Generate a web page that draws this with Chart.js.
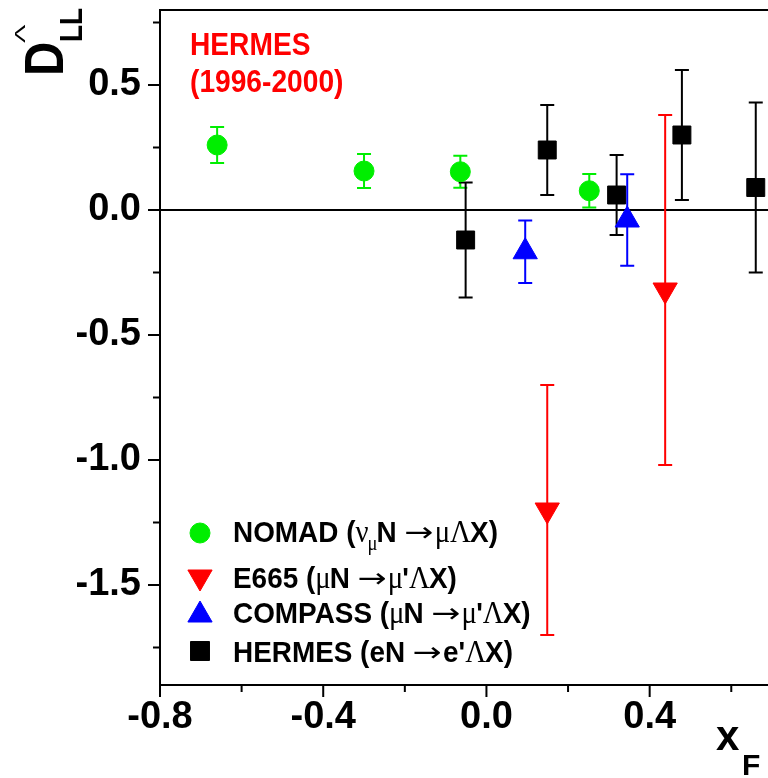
<!DOCTYPE html>
<html>
<head>
<meta charset="utf-8">
<script src="https://cdn.jsdelivr.net/npm/chart.js@4/dist/chart.umd.min.js"></script>
<style>
  body { margin: 0; background: #fff; }
  #wrap { width: 768px; height: 778px; }
</style>
</head>
<body>
<div id="wrap"><canvas id="myChart" width="768" height="778"></canvas></div>
<script>
// DATA

const nomadX = [-0.66, -0.30, -0.064, 0.252];
const nomadY = [0.26, 0.156, 0.153, 0.077];
const nomadErr = [0.072, 0.068, 0.064, 0.067];

const e665X = [0.149, 0.438];
const e665Y = [-1.2, -0.32];
const e665Err = [0.5, 0.70];

const compassX = [0.095, 0.345];
const compassY = [-0.167, -0.04];
const compassErr = [0.125, 0.183];

const hermesX = [-0.051, 0.149, 0.319, 0.479, 0.66];
const hermesY = [-0.12, 0.24, 0.06, 0.30, 0.09];
const hermesErr = [0.23, 0.18, 0.16, 0.26, 0.34];

const xTicks = [-0.8, -0.4, 0.0, 0.4];
const xMinor = [-0.6, -0.2, 0.2, 0.6];
const yTicks = [-1.5, -1.0, -0.5, 0.0, 0.5];
const yMinor = [-1.75, -1.25, -0.75, -0.25, 0.25, 0.75];

// legend text pieces: [text, kind]  b = bold, g = greek/symbol, s = subscript, a = arrow
const legendText = [
  [['NOMAD (', 'b'], ['\u03BD', 'g'], ['\u03BC', 's'], ['N ', 'b'], ['\u2192', 'a'], ['\u03BC\u039B', 'g'], ['X)', 'b']],
  [['E665 (', 'b'], ['\u03BC', 'g'], ['N ', 'b'], ['\u2192', 'a'], ['\u03BC', 'g'], ["'", 'b'], ['\u039B', 'g'], ['X)', 'b']],
  [['COMPASS (', 'b'], ['\u03BC', 'g'], ['N ', 'b'], ['\u2192', 'a'], ['\u03BC', 'g'], ["'", 'b'], ['\u039B', 'g'], ['X)', 'b']],
  [['HERMES (eN ', 'b'], ['\u2192', 'a'], ["e'", 'b'], ['\u039B', 'g'], ['X)', 'b']]
];

function pts(xs, ys, es) {
  return xs.map((x, i) => ({ x: x, y: ys[i], err: es[i] }));
}

const SANS = '"Liberation Sans", Arial, sans-serif';
const SERIF = '"Liberation Serif", "Times New Roman", serif';

function fontFor(kind) {
  if (kind === 'b') return 'bold 30px ' + SANS;
  if (kind === 's') return '20px ' + SERIF;
  if (kind === 'a') return '30px "DejaVu Sans"';
  return '31px ' + SERIF;
}

function drawRich(ctx, x, y, segs, sx) {
  ctx.save();
  ctx.translate(x, y);
  ctx.scale(sx, 1);
  let cx = 0;
  segs.forEach(s => {
    ctx.font = fontFor(s[1]);
    const dy = s[1] === 's' ? 8 : (s[1] === 'a' ? -1 : 0);
    if (s[1] === 'a') {
      // long thin arrow like the symbol font one
      ctx.save();
      ctx.translate(cx, dy);
      ctx.scale(1.25, 0.9);
      ctx.fillText(s[0], 0, 0);
      ctx.restore();
      cx += ctx.measureText(s[0]).width * 1.25 + 1;
    } else {
      ctx.fillText(s[0], cx, dy);
      cx += ctx.measureText(s[0]).width - (s[1] === 'b' ? 0 : 1);
    }
  });
  ctx.restore();
}

// error bars + zero line, under the markers
const errorBars = {
  id: 'errorBars',
  beforeDatasetsDraw(chart) {
    const { ctx, chartArea } = chart;
    const xs = chart.scales.x, ys = chart.scales.y;
    ctx.save();
    ctx.lineWidth = 2;
    ctx.strokeStyle = '#000';
    const y0 = ys.getPixelForValue(0);
    ctx.beginPath();
    ctx.moveTo(chartArea.left, y0);
    ctx.lineTo(chartArea.right, y0);
    ctx.stroke();

    chart.data.datasets.forEach(ds => {
      ctx.strokeStyle = ds.borderColor;
      ds.data.forEach(p => {
        const px = xs.getPixelForValue(p.x);
        const top = ys.getPixelForValue(p.y + p.err);
        const bot = ys.getPixelForValue(p.y - p.err);
        ctx.beginPath();
        ctx.moveTo(px, top); ctx.lineTo(px, bot);
        ctx.moveTo(px - 7, top); ctx.lineTo(px + 7, top);
        ctx.moveTo(px - 7, bot); ctx.lineTo(px + 7, bot);
        ctx.stroke();
      });
    });
    ctx.restore();
  }
};

// frame ticks, titles and legend
const decorations = {
  id: 'decorations',
  afterDraw(chart) {
    const { ctx, chartArea } = chart;
    const xs = chart.scales.x, ys = chart.scales.y;
    ctx.save();
    ctx.strokeStyle = '#000';
    ctx.lineWidth = 2;
    ctx.beginPath();
    ctx.moveTo(chartArea.left - 1, chartArea.top);
    ctx.lineTo(chartArea.right, chartArea.top);
    xTicks.forEach(v => { const p = xs.getPixelForValue(v); ctx.moveTo(p, chartArea.bottom); ctx.lineTo(p, chartArea.bottom + 12); });
    xMinor.forEach(v => { const p = xs.getPixelForValue(v); ctx.moveTo(p, chartArea.bottom); ctx.lineTo(p, chartArea.bottom + 7); });
    yTicks.forEach(v => { const p = ys.getPixelForValue(v); ctx.moveTo(chartArea.left, p); ctx.lineTo(chartArea.left - 12, p); });
    yMinor.forEach(v => { const p = ys.getPixelForValue(v); ctx.moveTo(chartArea.left, p); ctx.lineTo(chartArea.left - 7, p); });
    ctx.stroke();

    // red label
    ctx.fillStyle = '#ff0000';
    ctx.textBaseline = 'alphabetic';
    ctx.textAlign = 'left';
    ctx.save();
    ctx.translate(190, 55);
    ctx.scale(0.88, 1);
    ctx.font = 'bold 32px ' + SANS;
    ctx.fillText('HERMES', 0, 0);
    ctx.fillText('(1996-2000)', 0, 37);
    ctx.restore();

    // y title  D^Lambda_LL
    ctx.fillStyle = '#000';
    ctx.save();
    ctx.translate(63, 76);
    ctx.rotate(-Math.PI / 2);
    ctx.save();
    ctx.scale(0.86, 1);
    ctx.font = 'bold 55px ' + SANS;
    ctx.fillText('D', 0, 0);
    ctx.restore();
    ctx.save();
    ctx.translate(33, -38);
    ctx.scale(1.25, 0.7);
    ctx.font = '22px ' + SANS;
    ctx.fillText('\u039B', 0, 0);
    ctx.restore();
    ctx.save();
    ctx.translate(34, 19);
    ctx.scale(0.87, 1);
    ctx.font = 'bold 32px ' + SANS;
    ctx.fillText('LL', 0, 0);
    ctx.restore();
    ctx.restore();

    // x title
    ctx.font = 'bold 42px ' + SANS;
    ctx.fillText('x', 716, 750);
    ctx.font = 'bold 30px ' + SANS;
    ctx.fillText('F', 742, 775);

    // legend
    const rows = [533, 581, 611, 651];
    const bases = [542, 588, 623, 662];
    chart.data.datasets.forEach((ds, i) => {
      ctx.fillStyle = ds.backgroundColor;
      ctx.strokeStyle = ds.borderColor;
      ctx.lineWidth = 1;
      Chart.helpers.drawPoint(ctx, {
        pointStyle: ds.pointStyle,
        radius: ds.legendRadius,
        rotation: ds.rotation || 0,
        borderWidth: 1
      }, 200, rows[i] + (ds.legendShift || 0));
      ctx.fillStyle = '#000';
      drawRich(ctx, 233, bases[i], legendText[i], 0.93);
    });
    ctx.restore();
  }
};

new Chart('myChart', {
  type: 'scatter',
  data: {
    datasets: [
      { label: 'NOMAD', data: pts(nomadX, nomadY, nomadErr), pointStyle: 'circle', pointRadius: 10,
        backgroundColor: '#00ee00', borderColor: '#00ee00', legendRadius: 10 },
      { label: 'E665', data: pts(e665X, e665Y, e665Err), pointStyle: 'triangle', rotation: 180, pointRadius: 14,
        backgroundColor: '#ff0000', borderColor: '#ff0000', legendRadius: 14, legendShift: -4 },
      { label: 'COMPASS', data: pts(compassX, compassY, compassErr), pointStyle: 'triangle', pointRadius: 14,
        backgroundColor: '#0000ff', borderColor: '#0000ff', legendRadius: 14, legendShift: 4 },
      { label: 'HERMES', data: pts(hermesX, hermesY, hermesErr), pointStyle: 'rect', pointRadius: 12.7,
        backgroundColor: '#000000', borderColor: '#000000', legendRadius: 13.4 }
    ]
  },
  options: {
    responsive: false,
    animation: false,
    layout: { autoPadding: false, padding: { top: 10, right: 0, left: 0, bottom: 0 } },
    plugins: { legend: { display: false }, tooltip: { enabled: false } },
    scales: {
      x: {
        type: 'linear', min: -0.8, max: 0.69,
        grid: { display: false, drawTicks: false },
        border: { display: true, color: '#000', width: 2 },
        afterBuildTicks: s => { s.ticks = xTicks.map(v => ({ value: v })); },
        afterFit: s => { s.height = 93; s.paddingLeft = 0; s.paddingRight = 0; },
        ticks: {
          padding: 10, color: '#000', autoSkip: false, maxRotation: 0,
          font: { family: SANS, size: 38, weight: 'bold' },
          callback: v => v.toFixed(1)
        }
      },
      y: {
        type: 'linear', min: -1.9, max: 0.8,
        grid: { display: false, drawTicks: false },
        border: { display: true, color: '#000', width: 2 },
        afterBuildTicks: s => { s.ticks = yTicks.map(v => ({ value: v })); },
        afterFit: s => { s.width = 160; s.paddingTop = 0; s.paddingBottom = 0; },
        ticks: {
          padding: 19, color: '#000', autoSkip: false,
          font: { family: SANS, size: 38, weight: 'bold' },
          callback: v => v.toFixed(1)
        }
      }
    }
  },
  plugins: [errorBars, decorations]
});
</script>
</body>
</html>
